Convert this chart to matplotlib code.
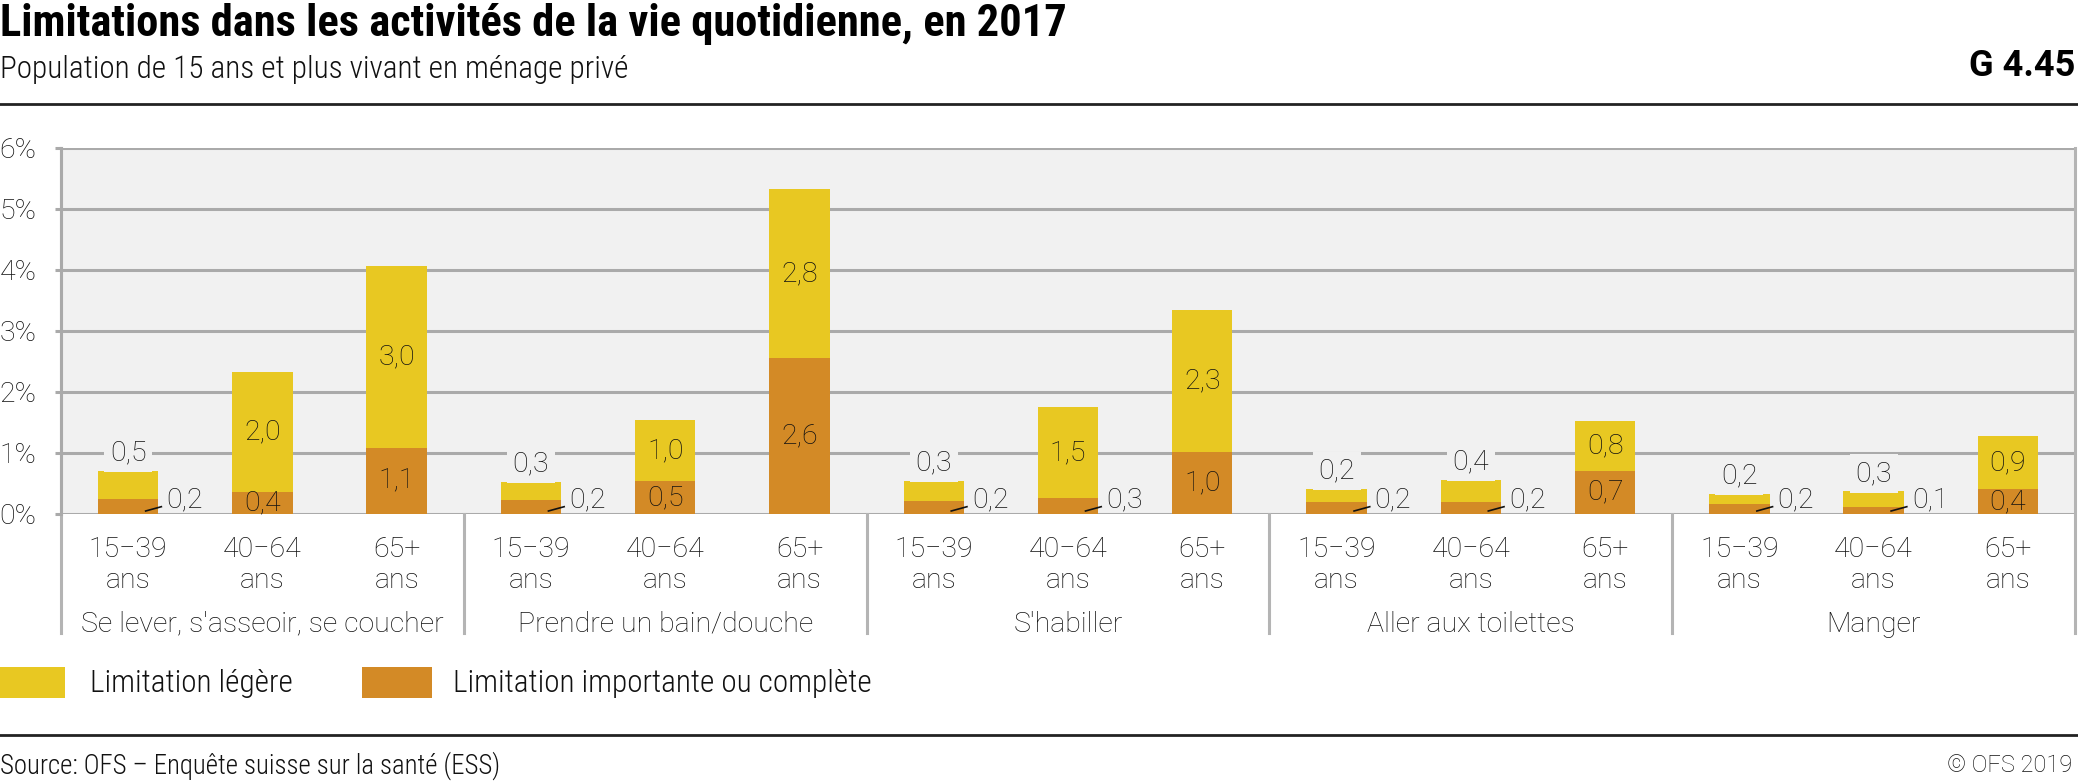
import matplotlib
matplotlib.use("Agg")
import matplotlib.pyplot as plt
import matplotlib.transforms as mtransforms
from matplotlib.patches import Rectangle
from matplotlib.lines import Line2D

# ---------------- data ----------------
activities = ["Se lever, s'asseoir, se coucher", "Prendre un bain/douche",
              "S'habiller", "Aller aux toilettes", "Manger"]
age_groups = ["15\u221239\nans", "40\u221264\nans", "65+\nans"]
# Limitation importante ou complète (orange), per activity x age group
severe = [0.24, 0.36, 1.08,
          0.23, 0.54, 2.56,
          0.22, 0.26, 1.02,
          0.19, 0.19, 0.71,
          0.17, 0.11, 0.41]
# Limitation légère (yellow)
light = [0.47, 1.97, 2.99,
         0.29, 1.00, 2.76,
         0.32, 1.49, 2.32,
         0.22, 0.37, 0.81,
         0.16, 0.26, 0.87]
yticks = [0, 1, 2, 3, 4, 5, 6]
series_names = ["Limitation l\u00e9g\u00e8re", "Limitation importante ou compl\u00e8te"]

YELLOW = "#E8C822"
ORANGE = "#D38A26"
BG = "#F1F1F1"
GRID = "#AAAAAA"
TXT = "#111111"

W, H = 2078, 783
fig = plt.figure(figsize=(W / 100, H / 100), dpi=100)

LIGHT = dict(family=["Roboto", "DejaVu Sans"], fontweight="light", color=TXT)
COND = dict(family=["Roboto Condensed", "Liberation Sans Narrow", "Roboto"], fontweight="light", color=TXT)
FS = 20.5

def fx(px):
    return px / W

def fy(py):
    return 1 - py / H

ax_left, ax_right, ax_top, ax_bot = 61, 2075, 147.7, 514
ax = fig.add_axes([fx(ax_left), fy(ax_bot), fx(ax_right - ax_left), (ax_bot - ax_top) / H])
ax.set_facecolor(BG)

n = len(severe)
xs = list(range(n))
bw = 0.45
ax.bar(xs, severe, width=bw, color=ORANGE, zorder=3, label=series_names[1])
ax.bar(xs, light, width=bw, bottom=severe, color=YELLOW, zorder=3, label=series_names[0])

ax.set_xlim(-0.5, n - 0.5)
ax.set_ylim(0, 6)
ax.set_yticks(yticks)
ax.set_yticklabels([f"{t}%" for t in yticks], fontsize=FS, **LIGHT)
ax.yaxis.grid(True, color=GRID, linewidth=2.2, zorder=1)
ax.tick_params(axis="y", length=4.5, width=2.2, color=GRID, pad=13)
for s in ["top", "right", "bottom"]:
    ax.spines[s].set_visible(False)
ax.spines["left"].set_color(GRID)
ax.spines["left"].set_linewidth(2.2)
ax.spines["left"].set_zorder(2)

ax.set_xticks(xs)
ax.set_xticklabels(age_groups * len(activities), fontsize=FS, linespacing=1.2, **LIGHT)
for lab in ax.get_xticklabels():
    lab.set_horizontalalignment("center")
ax.tick_params(axis="x", length=0, pad=16)

# separators below the axis
blend = mtransforms.blended_transform_factory(ax.transData, fig.transFigure)
for xb in [-0.5, 2.5, 5.5, 8.5, 11.5, 14.5]:
    top = ax_top if xb in (-0.5, 14.5) else ax_bot
    ax.add_line(Line2D([xb, xb], [fy(top), fy(633)], transform=blend, color="#B4B4B4",
                       linewidth=2.2, clip_on=False, zorder=2))

for gi, name in enumerate(activities):
    ax.text(gi * 3 + 1, fy(624), name, transform=blend, ha="center", va="center",
            fontsize=FS, **LIGHT)

# value labels
def fmt(v):
    return f"{v:.1f}".replace(".", ",")

px_per_pt = 100 / 72
for i in xs:
    s = severe[i]
    l = light[i]
    # orange
    if s >= 0.3:
        ax.text(i, s / 2, fmt(s), ha="center", va="center", fontsize=FS, zorder=5, **LIGHT)
    else:
        right = i + bw / 2
        ax.annotate(fmt(s), xy=(right, 0), xytext=(8 / px_per_pt, 14 / px_per_pt),
                    textcoords="offset points", ha="left", va="center",
                    fontsize=FS, zorder=5, annotation_clip=False, **LIGHT)
        t0 = mtransforms.offset_copy(ax.transData, fig=fig, x=-12.7 / px_per_pt, y=3 / px_per_pt, units="points")
        t1 = mtransforms.offset_copy(ax.transData, fig=fig, x=3 / px_per_pt, y=7.3 / px_per_pt, units="points")
        p0 = t0.transform((right, 0))
        p1 = t1.transform((right, 0))
        ax.add_line(Line2D([p0[0], p1[0]], [p0[1], p1[1]], transform=None, color=TXT,
                           linewidth=1.2, zorder=6, clip_on=False))
    # yellow
    if l >= 0.6:
        ax.text(i, s + l / 2, fmt(l), ha="center", va="center", fontsize=FS, zorder=5, **LIGHT)
    else:
        ax.annotate(fmt(l), xy=(i, s + l), xytext=(0, 18 / px_per_pt), textcoords="offset points",
                    ha="center", va="center", fontsize=FS, zorder=5,
                    bbox=dict(boxstyle="square,pad=0.2", facecolor=BG, edgecolor="none"),
                    **LIGHT)

# header
fig.text(0, fy(24), "Limitations dans les activit\u00e9s de la vie quotidienne, en 2017",
         ha="left", va="center", fontsize=32,
         family=["Roboto Condensed", "Liberation Sans Narrow", "Roboto"], fontweight="bold", color="#000000")
fig.text(0, fy(70), "Population de 15 ans et plus vivant en m\u00e9nage priv\u00e9",
         ha="left", va="center", fontsize=22.5, **COND)
fig.text(fx(2075), fy(66), "G 4.45", ha="right", va="center", fontsize=26,
         family=["Roboto", "DejaVu Sans"], fontweight="bold", color="#000000")
fig.add_artist(Line2D([0, 1], [fy(104), fy(104)], transform=fig.transFigure, color="#222222", linewidth=2))
fig.add_artist(Line2D([0, 1], [fy(735), fy(735)], transform=fig.transFigure, color="#222222", linewidth=2))

# legend
leg_items = [(0, 65, YELLOW, series_names[0], 90), (362, 70, ORANGE, series_names[1], 453)]
for x0, w, c, t, tx in leg_items:
    fig.add_artist(Rectangle((fx(x0), fy(698)), fx(w), 31 / H, transform=fig.transFigure,
                             facecolor=c, edgecolor="none"))
    fig.text(fx(tx), fy(684), t, ha="left", va="center", fontsize=22.5, **COND)

# footer
fig.text(0, fy(766), "Source: OFS \u2013 Enqu\u00eate suisse sur la sant\u00e9 (ESS)",
         ha="left", va="center", fontsize=19.3, **COND)
fig.text(fx(2072), fy(766), "\u00a9 OFS 2019", ha="right", va="center", fontsize=17, **LIGHT)

fig.savefig("out.png", dpi=100)
